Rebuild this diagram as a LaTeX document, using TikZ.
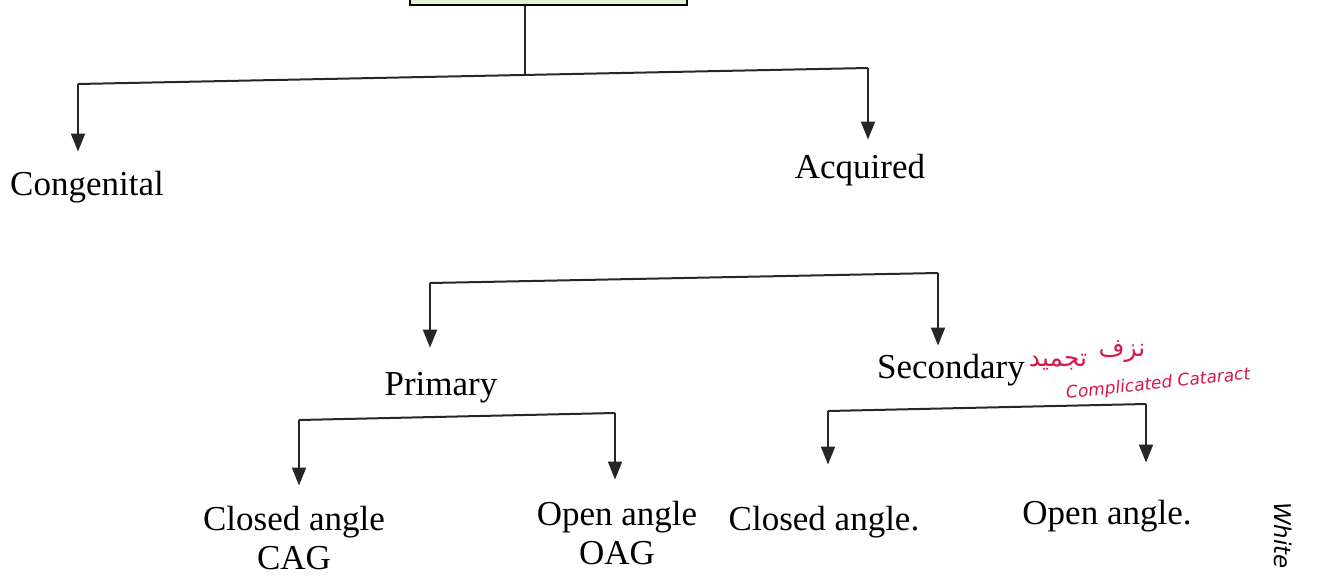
\documentclass[tikz,border=0pt]{standalone}
\usepackage{fontspec}
\setmainfont{Liberation Serif}
\newfontfamily\arabicfont[Script=Arabic]{DejaVu Sans}
\newfontfamily\handfont{DejaVu Sans}
\TeXXeTstate=1
\usetikzlibrary{arrows.meta}
\definecolor{boxgreen}{RGB}{222,242,204}
\definecolor{penred}{RGB}{214,24,72}
\begin{document}
\begin{tikzpicture}[x=1pt,y=-1pt,
  lbl/.style={anchor=base,inner sep=0pt,font=\fontsize{35}{39}\selectfont,align=center},
  ln/.style={line width=2pt,black!85},
  arr/.style={ln,-{Triangle[width=14pt,length=18pt]}},
  redtxt/.style={text=penred,inner sep=0pt}]
\useasboundingbox (0,0) rectangle (1326,576);
% top box (cut by the top edge)
\node[draw=black,line width=2.2pt,fill=boxgreen,minimum width=277pt,minimum height=30pt,inner sep=0pt,anchor=south] (box) at (548.5,6) {};
% labels (base = baseline of the last line)
\node[lbl] (cong) at (87,195) {Congenital};
\node[lbl] (acq) at (860,178) {Acquired};
\node[lbl] (prim) at (441,395) {Primary};
\node[lbl] (sec) at (951,378) {Secondary};
\node[lbl] (cag) at (294,569) {Closed angle\\CAG};
\node[lbl] (oag) at (617,564) {Open angle\\OAG};
\node[lbl] (sca) at (824,530) {Closed angle.};
\node[lbl] (soa) at (1107,524) {Open angle.};
% junction coordinates
\coordinate (t1) at (525,75);
\coordinate (cL) at (78,84);
\coordinate (cR) at (868,68);
\coordinate (pL) at (430,283);
\coordinate (pR) at (938,273);
\coordinate (qL) at (299,420);
\coordinate (qR) at (615,413);
\coordinate (rL) at (828,411);
\coordinate (rR) at (1146,404);
% connectors
\draw[ln] (t1 |- box.south) -- (t1);
\draw[ln] (cL) -- (cR);
\draw[arr,shorten >=19pt] (cL) -- (cL |- cong.north);
\draw[arr,shorten >=14pt] (cR) -- (cR |- acq.north);
\draw[ln] (pL) -- (pR);
\draw[arr,shorten >=24pt] (pL) -- (pL |- prim.north);
\draw[arr,shorten >=8pt] (pR) -- (pR |- sec.north);
\draw[ln] (qL) -- (qR);
\draw[arr,shorten >=20pt] (qL) -- (qL |- cag.north);
\draw[arr,shorten >=21pt] (qR) -- (qR |- oag.north);
\draw[ln] (rL) -- (rR);
\draw[arr,shorten >=41pt] (rL) -- (rL |- sca.north);
\draw[arr,shorten >=37pt] (rR) -- (rR |- soa.north);
% handwritten annotations
\node[redtxt,font=\arabicfont\fontsize{25}{27}\selectfont] (ar1) at (1058,362) {\beginR تجميد\endR};
\node[redtxt,font=\arabicfont\fontsize{25}{27}\selectfont] (ar2) at (1122,352) {\beginR نزف\endR};
\node[redtxt,font=\handfont\itshape\fontsize{17}{19}\selectfont,rotate=6,anchor=west] (cc) at (1066,394) {Complicated Cataract};
\node[font=\handfont\itshape\fontsize{23}{25}\selectfont,rotate=-90,anchor=north west,inner sep=0pt] (wh) at (1292,502) {White};
\end{tikzpicture}
\end{document}
